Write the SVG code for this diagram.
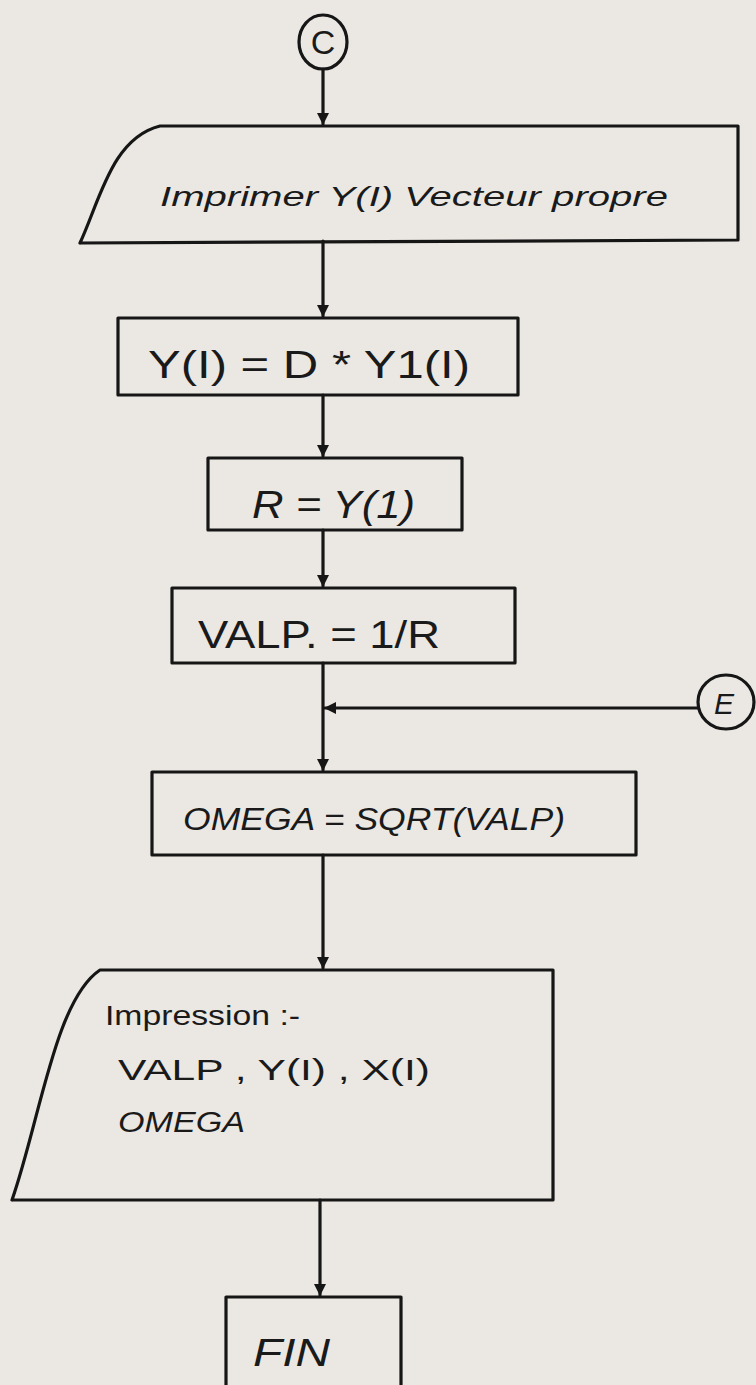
<svg xmlns="http://www.w3.org/2000/svg" width="756" height="1385" viewBox="0 0 756 1385">
<defs>
<style>
.bg{fill:#ebe8e3}
.s{fill:none;stroke:#161616;stroke-width:3.2;stroke-linejoin:round;stroke-linecap:round}
.t{font-family:"Liberation Sans",Arial,sans-serif;fill:#1a1a1a}
.i{font-style:italic}
</style>
<marker id="ah" viewBox="0 0 12 12" refX="11" refY="6" markerWidth="12" markerHeight="12" markerUnits="userSpaceOnUse" orient="auto">
<path d="M0,0 L12,6 L0,12 z" fill="#161616"/>
</marker>
</defs>
<rect class="bg" x="0" y="0" width="756" height="1385"/>
<g id="conn-C">
<ellipse class="s" cx="323" cy="42" rx="24" ry="27"/>
<text class="t" x="323" y="54" font-size="34" text-anchor="middle">C</text>
</g>
<g id="out1">
<path class="s" d="M80,243 C100,200 112,138 160,126 L738,126 L738,240 L80,243"/>
<text class="t i" x="160" y="206" font-size="28" textLength="508" lengthAdjust="spacingAndGlyphs">Imprimer Y(I) Vecteur propre</text>
</g>
<g id="box1">
<rect class="s" x="118" y="318" width="400" height="77"/>
<text class="t" x="148" y="378" font-size="38" textLength="322" lengthAdjust="spacingAndGlyphs">Y(I) = D * Y1(I)</text>
</g>
<g id="box2">
<rect class="s" x="208" y="458" width="254" height="72"/>
<text class="t i" x="252" y="518" font-size="38" textLength="163" lengthAdjust="spacingAndGlyphs">R = Y(1)</text>
</g>
<g id="box3">
<rect class="s" x="172" y="588" width="343" height="75"/>
<text class="t" x="198" y="648" font-size="38" textLength="242" lengthAdjust="spacingAndGlyphs">VALP. = 1/R</text>
</g>
<g id="conn-E">
<ellipse class="s" cx="726" cy="702" rx="28" ry="27"/>
<text class="t i" x="724" y="714" font-size="30" text-anchor="middle">E</text>
</g>
<g id="box4">
<rect class="s" x="152" y="772" width="484" height="83"/>
<text class="t i" x="183" y="830" font-size="32" textLength="382" lengthAdjust="spacingAndGlyphs">OMEGA = SQRT(VALP)</text>
</g>
<g id="out2">
<path class="s" d="M12,1200 C40,1120 55,1000 100,970 L553,970 L553,1200 L12,1200"/>
<text class="t" x="105" y="1025" font-size="28" textLength="195" lengthAdjust="spacingAndGlyphs">Impression :-</text>
<text class="t" x="118" y="1080" font-size="30" textLength="312" lengthAdjust="spacingAndGlyphs">VALP , Y(I) , X(I)</text>
<text class="t i" x="118" y="1132" font-size="30" textLength="127" lengthAdjust="spacingAndGlyphs">OMEGA</text>
</g>
<g id="fin">
<path class="s" d="M226,1385 L226,1297 L401,1297 L401,1385"/>
<text class="t i" x="253" y="1366" font-size="38" textLength="77" lengthAdjust="spacingAndGlyphs">FIN</text>
</g>
<g id="connectors">
<path class="s" d="M323,69 L323,124" marker-end="url(#ah)"/>
<path class="s" d="M323,241 L323,316" marker-end="url(#ah)"/>
<path class="s" d="M323,395 L323,456" marker-end="url(#ah)"/>
<path class="s" d="M323,530 L323,586" marker-end="url(#ah)"/>
<path class="s" d="M323,663 L323,770" marker-end="url(#ah)"/>
<path class="s" d="M698,708 L325,708" marker-end="url(#ah)"/>
<path class="s" d="M323,855 L323,968" marker-end="url(#ah)"/>
<path class="s" d="M320,1200 L320,1295" marker-end="url(#ah)"/>
</g>
</svg>
